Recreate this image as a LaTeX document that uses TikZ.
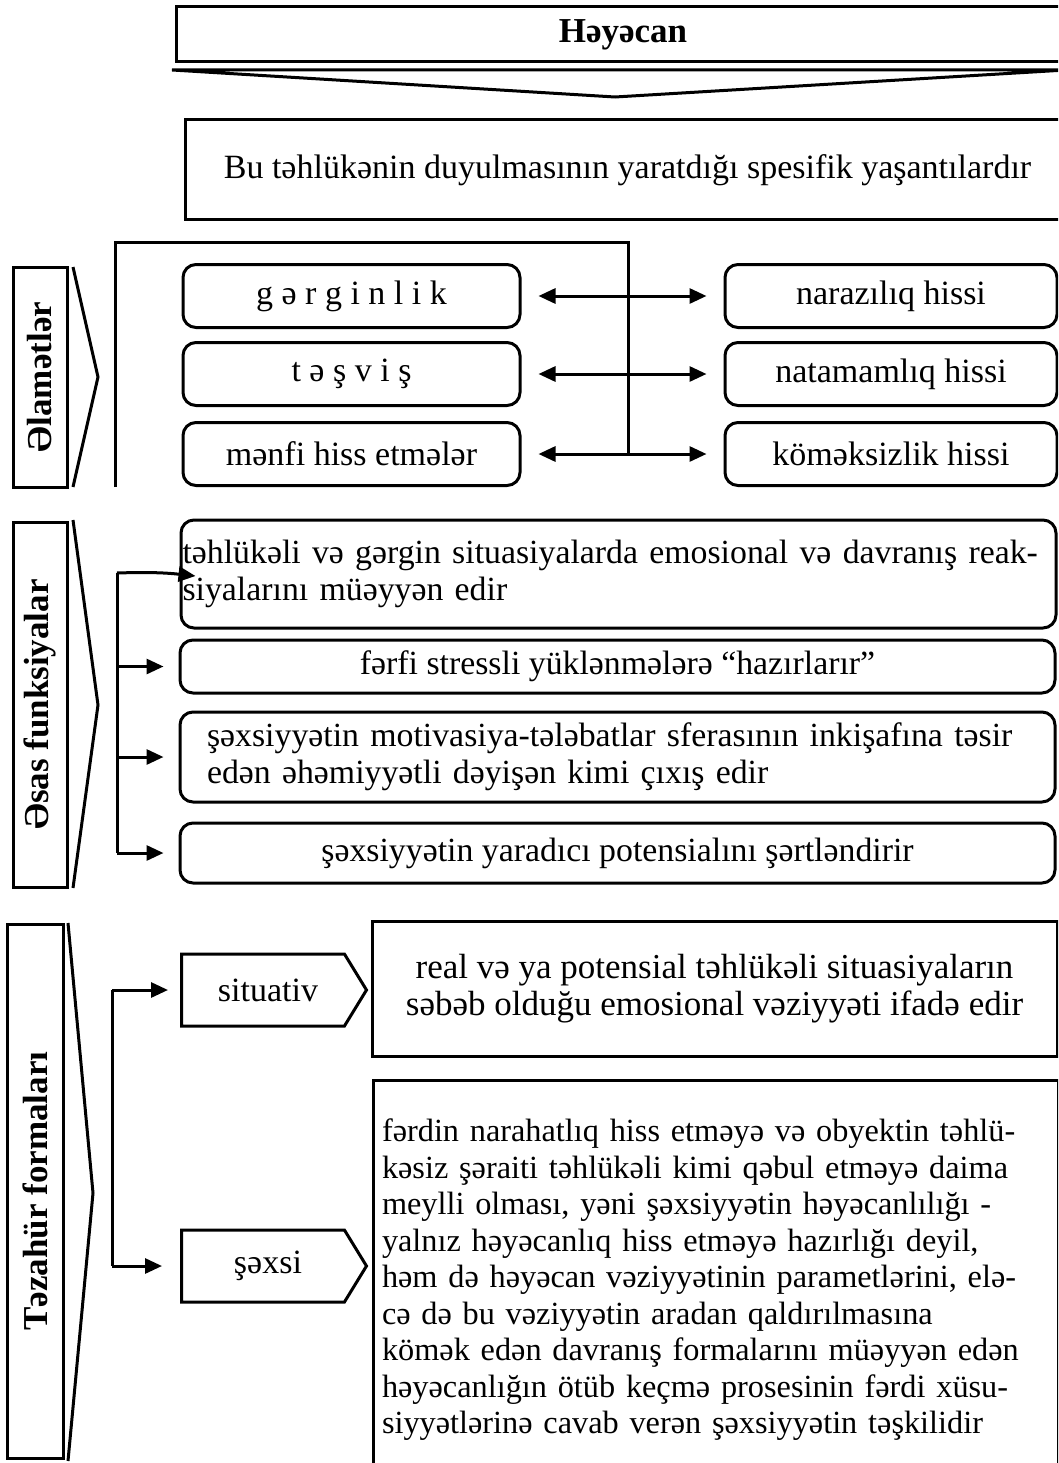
\documentclass[tikz,border=0pt]{standalone}
\usepackage{fontspec}
\setmainfont{Liberation Serif}
\usetikzlibrary{positioning, arrows.meta, shapes.symbols}

\begin{document}
\begin{tikzpicture}[x=1pt, y=-1pt,
	xett/.style={line width=3pt, line join=miter},
	basliq/.style={draw, line width=3pt, inner sep=0pt, font=\fontsize{35}{40}\selectfont\bfseries},
	etiket/.style={draw, line width=3pt, rotate=90, inner sep=0pt, font=\fontsize{35}{40}\selectfont\bfseries},
	qutu/.style={draw, line width=3pt, rounded corners=13pt, inner sep=0pt, minimum height=63pt, font=\fontsize{34}{40}\selectfont},
	metn/.style={draw, line width=3pt, rounded corners=13pt, inner sep=0pt, minimum width=875pt, font=\fontsize{33.8}{37}\selectfont},
	izah/.style={draw, line width=3pt, inner sep=0pt, minimum width=685pt, font=\fontsize{35}{37}\selectfont},
	forma/.style={draw, line width=3pt, signal, signal to=east, signal pointer angle=117, inner sep=0pt,
		minimum width=185pt, minimum height=72pt, font=\fontsize{34}{40}\selectfont},
	ox/.style={line width=3pt, -{Triangle[length=17pt,width=15pt]}},
	ikiox/.style={line width=3pt, {Triangle[length=17pt,width=15pt]}-{Triangle[length=17pt,width=15pt]},
		shorten <=17pt, shorten >=17pt}]
	\useasboundingbox (0,0) rectangle (1058,1463);
	\clip (0,0) rectangle (1058,1463);

	\node[basliq, minimum width=894pt, minimum height=55pt] (heyecan) at (623,34.5) {Həyəcan};
	\draw[xett] (172,70) -- (1066,70) -- (615,97) -- cycle;
	\node[basliq, font=\fontsize{34}{40}\selectfont, minimum width=885pt, minimum height=100pt] (tarif) at (627.5,170)
		{Bu təhlükənin duyulmasının yaratdığı spesifik yaşantılardır};

	\node[etiket, minimum width=220pt, minimum height=54pt] (elamet) at (40,377) {Əlamətlər};
	\draw[xett] (73,267) -- (98,377) -- (73,487);
	\draw[xett] (115,487) -- (115,243) -- (628,243) -- (628,454);
	\foreach \n/\y/\sol/\sag in {1/296/{g ə r g i n l i k}/{narazılıq hissi},
			2/374/{t ə ş v i ş}/{natamamlıq hissi},
			3/454/{mənfi hiss etmələr}/{köməksizlik hissi}} {
		\node[qutu, minimum width=337pt] (sol\n) at (351.5,\y) {\sol};
		\node[qutu, minimum width=332pt] (sag\n) at (891,\y) {\sag};
		\draw[ikiox] (sol\n) -- (sag\n);
	}

	\node[etiket, minimum width=365pt, minimum height=54pt] (esas) at (40,704.5) {Əsas funksiyalar};
	\draw[xett] (73,520) -- (98,705) -- (73,888);
	\node[metn, minimum height=108pt, text width=872pt, align=left] (f1) at (618.5,574)
		{təhlükəli və gərgin situasiyalarda emosional və davranış reak-\\siyalarını müəyyən edir};
	\node[metn, minimum height=53pt] (f2) at (617.5,666.5) {fərfi stressli yüklənmələrə “hazırlarır”};
	\node[metn, minimum height=90pt, text width=821pt, align=left] (f3) at (617.5,757)
		{şəxsiyyətin motivasiya-tələbatlar sferasının inkişafına təsir\\edən əhəmiyyətli dəyişən kimi çıxış edir};
	\node[metn, minimum height=60pt] (f4) at (617.5,853) {şəxsiyyətin yaradıcı potensialını şərtləndirir};
	\coordinate (b2) at (117,573);
	\draw[xett] (b2) -- (b2 |- f4);
	\draw[ox] (b2) to[bend left=4] ([xshift=16pt,yshift=-2pt]f1.west);
	\foreach \k in {2,3,4}
		\draw[ox, shorten >=15pt] (b2 |- f\k) -- (f\k.west);

	\node[etiket, minimum width=534pt, minimum height=56pt] (tezahur) at (35,1191) {Təzahür formaları};
	\draw[xett] (68,923) -- (93,1193) -- (68,1461);
	\node[forma, anchor=west] (situativ) at (180,990) {\hspace{10pt}situativ};
	\node[forma, anchor=west] (sexsi) at (180,1266) {\hspace{10pt}şəxsi};
	\coordinate (b3) at (112,990);
	\draw[xett] (b3) -- (b3 |- sexsi);
	\draw[ox, shorten >=12pt] (b3) -- (situativ.west);
	\draw[ox, shorten >=18pt] (b3 |- sexsi) -- (sexsi.west);
	\node[izah, minimum height=135pt, align=center] (izah1) at (714.5,988.5)
		{real və ya potensial təhlükəli situasiyaların\\səbəb olduğu emosional vəziyyəti ifadə edir};
	\node[izah, font=\fontsize{32.3}{36.5}\selectfont, minimum height=400pt, text width=668pt, align=left] (izah2) at (716,1280)
		{fərdin narahatlıq hiss etməyə və obyektin təhlü-\\kəsiz şəraiti təhlükəli kimi qəbul etməyə daima\\meylli olması, yəni şəxsiyyətin həyəcanlılığı -\\yalnız həyəcanlıq hiss etməyə hazırlığı deyil,\\həm də həyəcan vəziyyətinin parametlərini, elə-\\cə də bu vəziyyətin aradan qaldırılmasına\\kömək edən davranış formalarını müəyyən edən\\həyəcanlığın ötüb keçmə prosesinin fərdi xüsu-\\siyyətlərinə cavab verən şəxsiyyətin təşkilidir};
\end{tikzpicture}
\end{document}
